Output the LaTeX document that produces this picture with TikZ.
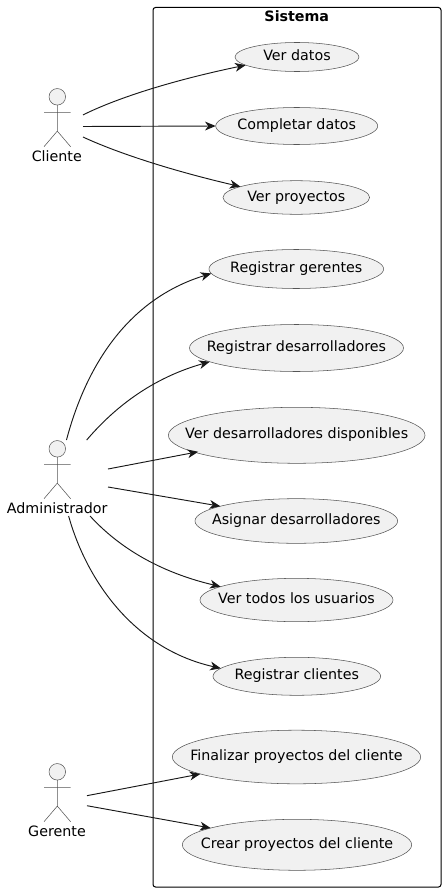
\documentclass[tikz,border=0pt]{standalone}
\usepackage{fontspec}
\setmainfont{DejaVu Sans}
\usetikzlibrary{shapes.geometric,arrows.meta}
\definecolor{ink}{HTML}{181818}
\definecolor{thin}{HTML}{555555}
\definecolor{ucfill}{HTML}{F1F1F1}
\newcommand{\uctext}[1]{\makebox[0pt][c]{#1}}
\tikzset{
  usecase/.style={ellipse,draw=thin,line width=0.4pt,fill=ucfill,inner sep=0pt,outer sep=0pt,
    text=black,font=\fontsize{10.7pt}{12pt}\selectfont,text height=8pt,text depth=2.6pt},
  actorbox/.style={rectangle,inner sep=0pt,outer sep=0pt},
  actorname/.style={anchor=base,text=black,inner sep=0pt,font=\fontsize{10.7pt}{12pt}\selectfont},
  framebox/.style={draw=black,line width=0.75pt,rounded corners=1.9pt},
  framename/.style={anchor=base,text=black,inner sep=0pt,font=\fontsize{10.7pt}{12pt}\selectfont\bfseries},
  link/.style={draw=ink,line width=0.7pt,-{Stealth[length=8pt,width=6.6pt,inset=2.4pt]}},
  actor/.pic={
    \draw[draw=thin,line width=0.4pt,fill=ucfill] (0,0) circle[radius=6.2pt];
    \draw[draw=thin,line width=0.4pt] (0,8.3) -- (0,34.3) (-13.3,15.5) -- (13.3,15.5)
      (-13.3,49.9) -- (0,34.3) -- (13.3,49.9);
  }
}
\begin{document}
\begin{tikzpicture}[x=0.75pt,y=-0.75pt]
\useasboundingbox (0,0) rectangle (446,892);
\fill[white] (0,0) rectangle (446,892);
% system frame
\draw[framebox] (153,7.5) rectangle (441,887);
\node[framename] (sys) at (296.8,21.7) {Sistema};
% actors
\node[actorbox,minimum width=39pt,minimum height=57.75pt] (cl) at (57,126.5) {};
\node[actorbox,minimum width=76.5pt,minimum height=57pt] (ad) at (57,478) {};
\node[actorbox,minimum width=45pt,minimum height=57.75pt] (ge) at (57,801.5) {};
\pic at (57.3,96.8) {actor};
\pic at (57.3,448.8) {actor};
\pic at (57.3,771.8) {actor};
\node[actorname] (clname) at (56.8,161) {Cliente};
\node[actorname] (adname) at (57.2,513.3) {Administrador};
\node[actorname] (gename) at (57,836) {Gerente};
% use cases
\node[usecase,minimum width=93pt,minimum height=21.75pt] (u1) at (297,57) {\uctext{Ver datos}};
\node[usecase,minimum width=121.5pt,minimum height=27.75pt] (u2) at (296.7,126) {\uctext{Completar datos}};
\node[usecase,minimum width=110pt,minimum height=25.2pt] (u3) at (296.3,197.5) {\uctext{Ver proyectos}};
\node[usecase,minimum width=131pt,minimum height=29.25pt] (u4) at (296.3,269) {\uctext{Registrar gerentes}};
\node[usecase,minimum width=160.5pt,minimum height=35.25pt] (u5) at (296.5,348) {\uctext{Registrar desarrolladores}};
\node[usecase,minimum width=192.5pt,minimum height=42pt] (u6) at (296.7,435.3) {\uctext{Ver desarrolladores disponibles}};
\node[usecase,minimum width=152pt,minimum height=33.5pt] (u7) at (296.3,521) {\uctext{Asignar desarrolladores}};
\node[usecase,minimum width=144.75pt,minimum height=32.5pt] (u8) at (296.5,600) {\uctext{Ver todos los usuarios}};
\node[usecase,minimum width=125.7pt,minimum height=28.5pt] (u9) at (296.8,676.3) {\uctext{Registrar clientes}};
\node[usecase,minimum width=186.3pt,minimum height=40.2pt] (u10) at (296.5,757) {\uctext{Finalizar proyectos del cliente}};
\node[usecase,minimum width=172pt,minimum height=38.25pt] (u11) at (297,844.8) {\uctext{Crear proyectos del cliente}};
% connectors
\draw[link] (cl.24.8) .. controls (113,100) and (165,82) .. (u1.189);
\draw[link] (cl.0) -- (u2.180);
\draw[link] (cl.-22) .. controls (113,151) and (165,169) .. (u3.169);
\draw[link] (ad.76.7) .. controls (85,370) and (125,300) .. (u4.183.5);
\draw[link] (ad.52.6) .. controls (108,415) and (145,380) .. (u5.189.3);
\draw[link] (ad.10.8) -- ([xshift=4pt]u6.189.6);
\draw[link] (ad.-10.5) -- (u7.169.6);
\draw[link] (ad.-49.5) .. controls (112,540) and (150,570) .. (u8.170.8);
\draw[link] (ad.-73.2) .. controls (85,575) and (130,648) .. (u9.174.9);
\draw[link] (ge.11.7) -- (u10.190.2);
\draw[link] (ge.-8.5) -- (u11.169.6);
\end{tikzpicture}
\end{document}
